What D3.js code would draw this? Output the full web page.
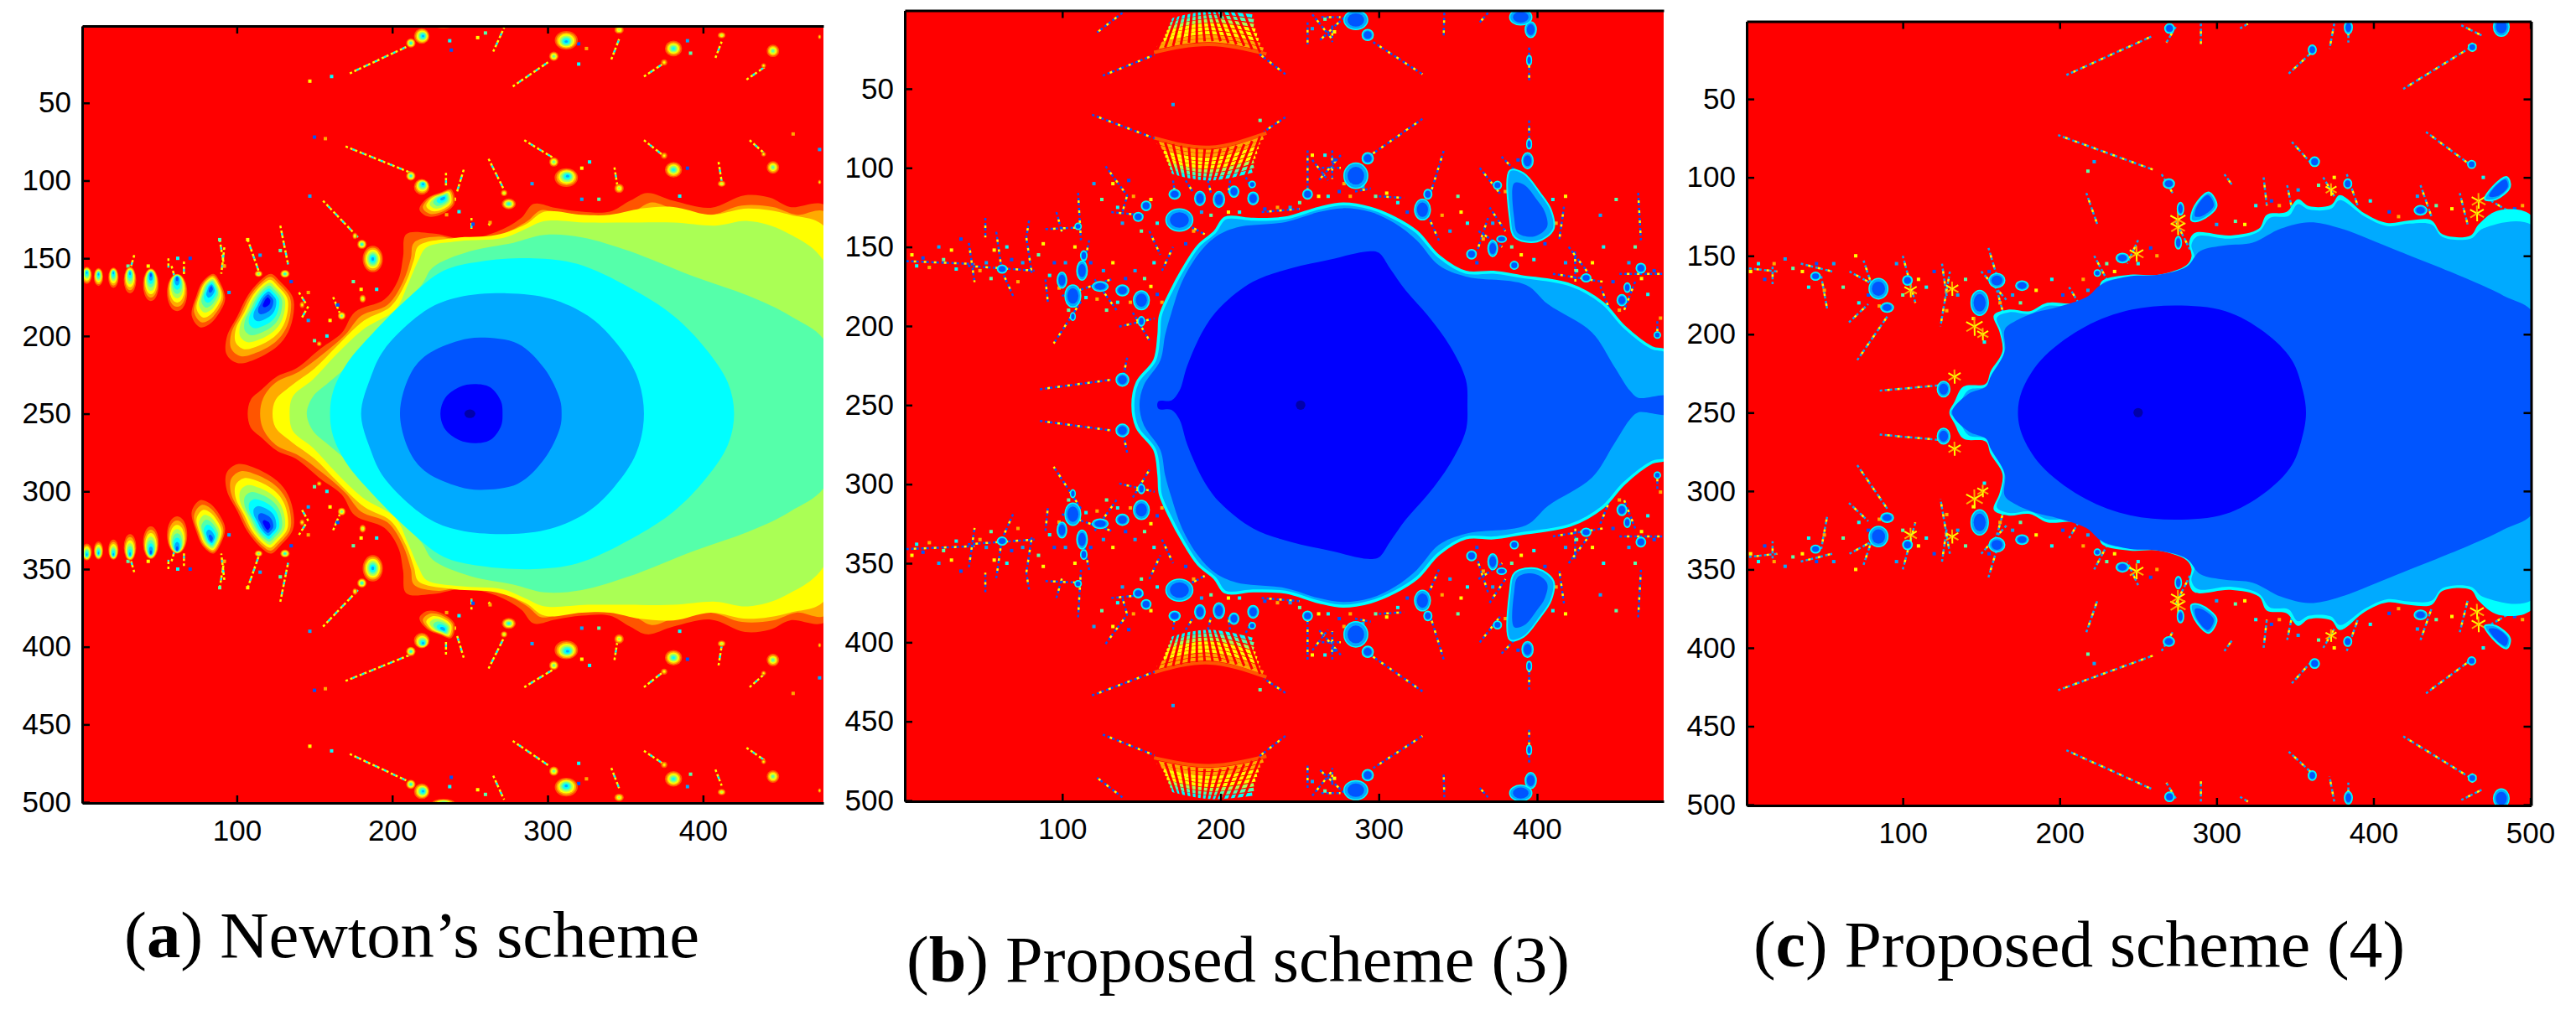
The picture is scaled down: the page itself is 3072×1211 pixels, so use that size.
<!DOCTYPE html>
<html>
<head>
<meta charset="utf-8">
<script src="https://d3js.org/d3.v7.min.js"></script>
<style>
    html, body { margin: 0; padding: 0; background: #fff; }
    .tick text { font-family: "Liberation Sans", sans-serif; font-size: 35px; fill: #000; }
    .caption { font-family: "Liberation Serif", serif; font-size: 78px; fill: #000; }
</style>
</head>
<body>
<svg id="fig" width="3072" height="1211"></svg>
<script>
// all shapes are in image coordinates (column, row).
// only the upper half is listed, the basins are mirrored about row 250 when drawn
const xTicks = [100, 200, 300, 400];
const xTicksC = [100, 200, 300, 400, 500];
const yTicks = [50, 100, 150, 200, 250, 300, 350, 400, 450, 500];

const levels = ['#ff5500', '#ffaa00', '#ffff00', '#aaff55', '#55ffaa', '#00ffff', '#00aaff', '#0055ff', '#0000ff', '#0000aa'];
const speckColours = ['#ffff00', '#00ffff', '#0055ff', '#ffaa00', '#00aaff', '#55ffaa'];

// ---- panel a
const newtonContours = [
    [[107,250],[109,241],[116,234.5],[126,226],[138,221],[154,208],[167.5,198],[176,184.5],[195,176.5],[204,163.5],[207,149],[209,134.5],[226,134],[247,137.5],[267,133],[283,124],[291,115],[305,117.5],[322,120],[340,120],[353,113],[364,108],[381,113],[405,117.5],[427,109.5],[443,111],[456,117],[480,117]],
    [[115,250],[117,240],[125,230],[140,223],[155,212],[170,199],[180,187],[197,180],[207,165],[212,150],[214,140],[230,136],[250,140],[270,135],[287,126],[296,119],[310,122],[325,125],[345,125],[357,119],[367,114],[383,119],[405,122],[425,116],[445,117],[460,122],[480,121]],
    [[123,250],[125,241],[135,232],[150,221],[164,207],[182,190],[199,181],[209,165],[214,151],[217,142],[240,137],[267,135],[286,128],[298,120],[322,122],[340,122],[360,118],[381,117],[405,122],[429,118],[456,122],[480,132]],
    [[134,250],[136,239],[149,228],[164,212],[181,196],[202,183],[210,167],[217,151],[222,143],[243,139],[271,137],[286,131],[298,126],[326,127],[353,127],[381,127],[408,129],[429,126],[453,133],[480,156]],
    [[145,250],[149,239],[159,230],[174,217],[188,201],[205,181],[219,167],[226,156],[250,145.5],[278,140],[298,135],[322,136.5],[353,145.5],[395,162],[429,174],[456,187],[480,206]],
    [[160,250],[162,235.5],[171,217.5],[188,197.6],[212,174],[233,158],[257,152],[291,150],[319,153.6],[353,169],[381,187],[402,208.5],[416,230],[420,250]],
    [[180,250],[186,227],[195,208.5],[222.5,183],[243,175],[274,172.5],[302,176],[326,187],[343,203],[357,224.5],[362,250]],
    [[205,250],[212,224],[222.5,212],[243,203],[257,201],[281,205],[298,221],[308,241],[309,250]],
    [[231,250],[234,240],[243,233],[253,231],[263,233],[270,242],[271,250]]
];
// cx, cy, rx, ry, core x, core y, number of colour rings
const newtonBlobs = [
    [3.5,161,3.2,5.5,3.5,159,7],[11,162,3,5.8,11,160,7],[20.6,162.5,3.3,6.5,20.6,159,7],[31.3,164,4,8.5,31.3,159,7],
    [44.7,167,5,10.5,44.7,160,8],[61.6,172,6.5,12,61.6,162,8],
    [187.5,150.5,6.5,8.5,187.5,150.5,7],[312,9.7,7.4,6,312,10.6,7],[312,98,7.5,6,313,97,7],
    [219,7,5,5,220,7,7],[219,104,5,5,220,102,7],[212,97,3,3,212,97,6],[212,11.5,3,3,212,11.5,6],[233,0,7,2,233,0,5],
    [275,115,4.5,3.5,275,115,6],[381,15,5.5,5,381,15,6],[381,93,5.5,5,381,93,6],[445,16.5,4,4,445,16.5,5],[445,91.5,4,4,445,91.5,5],
    [412,6.5,2.5,2,412,6.5,4],[412,102,2.5,2,412,102,4],[346,3,3,2.5,346,3,4],[346,105,3,3,346,105,4],
    [304,20,3,3,304,20,5],[304,88,3,3,304,88,5],[375,24,2,2,375,24,3],[375,84,2,2,375,84,3],[439,26,1.5,1.5,439,26,3],[439,83,1.5,1.5,439,83,3],
    [475,7.5,1,1.5,475,7.5,3],[475,101,1,1.5,475,101,3],[180.5,141,3,3,180.5,141,6],[176,135.6,1.5,2,176,135.6,4],
    [167.5,187,2.5,2.5,167.5,187,5],[181,176,2,2.5,181,176,4],[142,180,1.5,2,142,180,3],[153,205,1.5,1.5,153,205,3],
    [114,160,2.5,2,114,160,5],[131,160,3,2.5,131,160,6],[272,108,2,2,272,108,4]
];
// outline, core, rings
const newtonDrops = [
    { outline: [[122,160],[128,165],[136,175],[136.6,185],[133,197.7],[126,206.7],[112.5,214.7],[100.5,217.5],[93.5,212],[93.5,201],[100.5,187],[107,174],[116,163.5]], core: [119.7,177], rings: 9 },
    { outline: [[85,160],[90,167],[92.5,176],[90,183],[83,192],[76.4,194.4],[71,187],[74,174],[78,165]], core: [83.5,169], rings: 8 },
    { outline: [[238,105.6],[240,115],[231,122],[222.5,123],[217.5,118.5],[222.5,111.3],[231,107.7]], core: [233,111], rings: 7 }
];
const newtonStreaks = [
    [[172.7,31],[209,14]],[[277.6,39.4],[301.5,23]],[[362,33],[374,25]],[[428,35],[439.6,27]],
    [[265,17],[272,1.6]],[[341,22],[346,9]],[[408,21],[412,10.6]],
    [[170,78],[212,95]],[[285,74],[303,85]],[[362,74],[374,83.5]],[[430,74],[439,82]],
    [[262,86],[272,106]],[[343,91.5],[345,104]],[[410,88],[412,100.5]],
    [[155.5,113],[178,136.5]],[[128,129],[133,154]],[[107,138],[114,158]],[[89,138],[92,156]],
    [[162,175],[167,187]],[[234.6,95],[234.6,104]],[[246,93],[241.5,108]],[[251,124],[251,131]],[[262,127.5],[263,129]],
    [[140,172],[145,180]],[[146,181],[142,188]],[[34,148],[32,155]],[[58,155],[60,162]],[[66,152],[66,161]],[[92,143],[90,160]],[[56,150],[56,156]]
];
const newtonSpecks = [
    [147,36],[161,33],[150,72],[157,73],[147,110],[89,138],[107,138],[320,25],[320,12],[325,15],[390,10],[392,18],[240,112],[243,120],[252,128],[263,127],[322,112],[333,112],[322,92],[327,88],[390,92],[458,70],[475,80],[260,5],[255,8],[237,10],[238,16],[235,122],[290,102],[175,165],[180,170],[190,170],[135,165],[146,172],[146,190],[150,203],[160,190],[158,200],[165,180],[85,175],[95,172],[30,155],[43,155],[62,150],[70,150],[92,155],[115,148],[128,145],[430,120],[385,110]
];

// ---- panel b
const scheme3Contours = [
    [[144.6,250],[147.4,235.7],[158.4,221.6],[161,205.7],[162,193.4],[169,177.5],[175.7,165],[186,149.3],[196.4,140.5],[203,131.7],[220.6,132.5],[241,131.7],[262,125.5],[277.5,122.8],[294.8,125.5],[310,131.7],[324,140.5],[338,156],[355,166],[372.5,166],[390,168.7],[421,174],[441.5,185.5],[455,200.4],[472.5,213.7],[483,217]],
    [[148.8,250],[151.5,237.5],[162,221.6],[165,205.7],[169,191.6],[175.7,172],[186,154.6],[196.4,144],[210,137.8],[241,134.3],[262,128],[277.5,125.5],[295,128],[310,135],[324,145.8],[338,161.6],[355,168.7],[393,174],[407,186.3],[434.6,204],[448.4,225],[458.8,241],[464,245.4],[483,244.5]],
    [[160,250],[161,247.5],[169,247],[174,241],[179,225],[189.5,202],[200,188],[220.6,172],[244.7,163.4],[269,158],[293,152.8],[300,153.7],[307,163.4],[317,177.5],[331,193.4],[345,212.8],[355,234],[356,250]]
];
const scheme3Blobs = [
    [285.5,105,7.5,8],[285.5,6.5,7.5,6],[293,94,3.5,3.5],[293,16,3.5,3.5],[174,133,8.5,7],[153,124,3,3],[148,131,3,2.8],
    [171,116.7,3.5,3],[187,119.3,3.3,4.5],[199,120,3.5,5],[208.5,115,3,3.5],[220.6,119.3,3.3,4],[220,110.5,2,2],
    [255,116.7,3,3],[327.6,126.4,5,6.5],[331,116.7,2.5,3],[394,95.5,3.5,5],[396,12.6,3.5,5],[389.7,4.7,7,5],[395,85,1.5,3],[395,32,1.5,3],
    [375,111,2.5,2.5],[358.6,154.6,3,3],[372,151,3,5],[377.6,145,3,2],[385.6,161.6,2.5,2.5],[431,169.6,3,2.5],[453.6,183.7,3,3.5],[457,175.7,2,3],
    [465.6,163.4,3,3],[476,205.7,2,2],[150,183.7,5,6],[138,177.5,4,3.5],[106.7,181,5,7],[99.8,171,3,5],[112.5,165,3.3,6],[113.6,155.5,2,3],
    [124,175,5,3],[62,164,3,2.5],[138,234,4,4],[106.7,194,1.5,2.5],[110,137,2,2],[150,197,2,3]
];
const scheme3Drops = [
    { outline: [[382.8,101.7],[391.4,103.4],[401.8,115.8],[408.7,126.4],[410.4,138.7],[400,146.6],[386,144],[382.8,131.7]], core: [394,133.4] }
];
const scheme3Streaks = [
    [[1.4,159],[44.6,160.8]],[[41,147.5],[44.6,172.3]],[[58.3,140.5],[61.8,165]],[[79,133.4],[77.3,144],[80.8,167]],[[61.8,165],[68.9,181]],[[51.4,131.7],[51.4,144]],
    [[40.4,162],[82.5,165]],[[110,115.8],[111.8,145.8]],[[96.3,128],[99.8,140.5]],[[89.4,138.7],[110,137.8]],[[117,145.8],[111.8,170.5]],
    [[127.4,99],[141,117.5],[138,128]],[[131,128],[151.6,130]],[[89.4,170.5],[91,186]],[[99.8,181],[131,170.5]],[[111.8,184.6],[94.6,211]],[[120.5,170.5],[134.3,190]],
    [[144.6,191.6],[155,209]],[[136,200.4],[158.4,195.2]],[[85.9,240],[130.8,234]],[[141,220],[137.7,236]],
    [[463.9,115.8],[465.6,145.8]],[[417,124.6],[414,145.8]],[[369,131.7],[362,153]],[[377.6,92.9],[386,101.7]],[[363.8,100],[377.6,117.5]],[[341,89.3],[332.8,115.8]],
    [[331,130],[338,146]],[[424,152.8],[424.2,172]],[[410,167],[441.5,172]],[[452,167],[479.5,167]],[[462,172],[455,190]],[[476,197],[476,208]],
    [[395,24],[395,45]],[[395,70],[395,87.6]],[[296.5,20.5],[327.6,40.8]],[[327.6,69],[294.8,92]],[[125.6,41.7],[158.4,28.5]],[[241,40.8],[224,27.6]],
    [[241,68],[227.5,77]],[[118.8,66.4],[158.4,81.4]],[[369,2],[363.8,8]],[[341.4,2],[341,17]],[[138,2],[122,14.4]],
    [[255,89],[255,114]],[[270.6,89],[270.6,107]],[[264,100],[276,100]],[[255,8],[255,22]],[[270.6,10],[270.6,20.5]],[[263.7,4.7],[275.8,4.7]],
    [[258,95],[268,108]],[[276,92],[262,108]],[[258,3],[270,18]],[[278,5],[262,20]],[[178,108],[183,116]],[[192,108],[194,116]],[[206,108],[205,116]],[[216,106],[220,114]],
    [[170,108],[171,115]],[[285,115],[295,113]],[[300,118],[316,119]],[[226,128],[250,126]],[[363,140],[378,150]],[[370,125],[380,140]],[[420,150],[432,166]],[[440,175],[448,195]],
    [[163,165],[170,150]],[[168,130],[190,142]],[[155,140],[162,155]]
];
const scheme3Specks = [
    [5,155],[8,162],[12,157],[16,163],[22,150],[25,158],[30,152],[33,164],[36,145],[48,165],[52,160],[55,170],[57,152],[65,150],[68,158],[72,172],[75,160],[85,155],[88,148],[92,168],
    [95,160],[98,176],[102,160],[104,190],[108,150],[115,182],[118,160],[122,183],[126,165],[128,190],[132,160],[135,185],[140,170],[143,185],[146,165],[152,170],[156,175],[158,160],[160,180],[163,185],
    [120,110],[125,120],[132,110],[135,125],[142,108],[145,118],[138,135],[150,140],[156,120],[160,135],[178,148],[183,140],[188,128],[194,130],[205,128],[212,128],[228,126],[236,125],[244,125],[250,122],
    [262,118],[268,118],[275,115],[282,118],[290,112],[298,118],[305,116],[312,122],[318,128],[340,130],[345,140],[350,118],[352,128],[356,135],[362,160],[366,145],[372,135],[384,150],[390,155],[398,158],
    [405,148],[412,135],[418,160],[425,165],[435,160],[442,150],[448,172],[452,190],[458,160],[462,150],[466,170],[470,180],[474,165],[478,195],[440,130],[450,120],[418,118],[410,120],[388,95],[380,115],[170,60],[225,70],[258,92],[266,92],[272,95],[278,110],[258,12],[266,6],[272,14]
];
// concentric rows of the two lace fans, left, middle, right
const fanRows = [
    [[158,81],[193,87],[229,78]],[[160,84],[193,89.5],[227,81]],[[162,87],[193,92],[225,84]],[[164,90],[193,94.5],[224,87]],[[165,92.5],[193,97],[223,90]],
    [[166,95],[193,99.5],[222,93]],[[167,97.5],[193,102],[221,96]],[[168,100],[193,104.5],[221,99]],[[169,102.5],[193,107],[220,102]],
    [[158,27],[193,22],[229,28]],[[160,24],[193,19.5],[227,25]],[[162,21.5],[193,17],[225,22]],[[164,19],[193,14.5],[224,19]],[[165,16.5],[193,12],[223,16]],
    [[166,14],[193,9.5],[222,13]],[[167,11.5],[193,7],[221,10]],[[168,9],[193,4.5],[221,7]],[[169,6.5],[193,2],[220,4]]
];
const fanRowLevels = [0, 1, 1, 2, 2, 2, 3, 4, 5, 0, 1, 1, 2, 2, 2, 3, 4, 5];
const fanRays = [
    [[160,83],[171,110]],[[165,84],[173.5,110]],[[170,85],[176,110]],[[175,86],[179,110]],[[180,87],[182,110]],[[185,87.5],[185,110]],[[190,88],[188,110]],
    [[195,88],[191,110]],[[200,88],[194,110]],[[205,87],[197,110]],[[210,86],[201,110]],[[215,85],[205,110]],[[220,83],[209,110]],[[225,80],[214,110]],
    [[160,25],[171,0]],[[165,24],[173.5,0]],[[170,23],[176,0]],[[175,22],[179,0]],[[180,21],[182,0]],[[185,21],[185,0]],[[190,20],[188,0]],
    [[195,20],[191,0]],[[200,20],[194,0]],[[205,21],[197,0]],[[210,22],[201,0]],[[215,23],[205,0]],[[220,25],[209,0]],[[225,27],[214,0]]
];

// ---- panel c
const scheme4Contours = [
    [[129.7,250],[133,243],[138.6,233.4],[152.8,231.6],[156,223.6],[163.5,211],[161.7,198.7],[158,188],[167,184.4],[181,185.3],[192,180],[209.7,180],[224,172],[227.4,165.7],[245,162],[263,162],[280.7,156],[284,150.5],[282.5,141.6],[286,135.4],[309,137],[327,132.7],[332,123.8],[344.7,122],[351.8,114],[359,118.4],[373,117.6],[378.5,111.3],[394.5,123],[408.7,129],[423,127.4],[437,127.4],[444,136.3],[462,137],[467,130],[480,121],[503,126.5]],
    [[130.5,250],[136,244],[142,235.5],[153,233.4],[157,225],[164.5,212],[163,199],[160,189.5],[168,186],[181,187],[192,182],[209.7,182],[224,174],[228,167],[245,164],[263,164],[281,158],[286,152],[284,143],[288,137.5],[309,139],[327,134.5],[334,125.8],[346,124.5],[351.8,117],[359,120.5],[373,120],[378.5,114.5],[394.5,125],[408.7,131],[423,129.5],[437,130],[444,138],[462,139],[470,132.5],[503,132]],
    [[131.5,250],[142,238],[153,233.4],[156,227],[165,211],[165,197],[172,191.5],[185,186],[199,182.6],[217,176.4],[227,168],[245,163],[263,162],[281,156.8],[289.6,147],[305.6,143.4],[323,141.6],[341,132.7],[359,128.6],[376.7,131.8],[415.8,147],[462,165.7],[483,175.5],[503,188]],
    [[173.4,250],[176,236],[188,216.5],[213,197],[241.6,185.3],[273.6,181.7],[305.6,185.3],[330.5,198.7],[348,216.5],[355,236],[357,250]]
];
const scheme4Blobs = [
    [481.5,4,5,6],[149,180,5.5,8],[84.5,171,6,6.5],[90,183,4,3],[160,165.7,5,4.5],[176,169,4,3],[44.4,163,3,2.5],[103,165.7,3,3],[126,235,4,5],
    [270,5,3,3],[269.6,104,3.5,3],[240,151.4,4,3],[430,121,4,3],[362.5,90,3,3],[383.6,104,2.5,3],[384,4.4,2.5,4],[361,18.6,2.5,3],[463,17,2.5,2.5],[462.6,91.7,2.5,2.5],
    [277,120,2,4],[275.6,141.6,2,4],[224,161,2,2]
];
const scheme4Drops = [
    { outline: [[295,109.5],[300,118.4],[289.6,127.4],[284,127.4],[286,118.4]], core: [293,116.7] },
    { outline: [[485,99.7],[487,106],[478,114],[471,114],[476,106]], core: [481.5,106] }
];
const scheme4Streaks = [
    [[204.3,34.7],[259.4,9.7]],[[346,33.8],[360.5,20.4]],[[419,43.6],[462,17]],[[199,73],[259.4,95]],[[348,77.4],[362.5,93.5]],[[433.5,71],[463.8,93.5]],
    [[65.7,192.4],[78,180.8]],[[71,216.5],[90.6,188]],[[85.3,236],[124.4,232.5]],[[154.6,145],[160,163]],
    [[2,158],[20,160]],[[17,157],[17,168]],[[35,155],[55,160]],[[48,163],[52,185]],[[66,160],[88,172]],[[75,153],[80,168]],
    [[100,150],[108,180]],[[125,155],[128,176]],[[130,160],[124,195]],[[160,172],[165,190]],[[150,160],[166,178]],
    [[217,110],[224,130]],[[265,98],[272,110]],[[274,4],[268,14]],[[283,146],[274,128]],[[250,140],[243,155]],[[222,150],[230,165]],[[206,170],[212,180]],
    [[330,100],[332,118]],[[345,105],[348,120]],[[368,100],[375,112]],[[383,98],[390,118]],[[430,105],[437,125]],[[455,110],[460,130]],[[475,115],[492,125]],
    [[315,5],[320,2]],[[375,2],[372,18]],[[384,3],[384,14]],[[456,3],[470,10]],[[305,98],[310,105]],[[290,2],[290,15]]
];
const scheme4Specks = [
    [3,160],[8,155],[12,165],[18,155],[25,152],[30,158],[36,160],[40,170],[45,155],[50,172],[56,155],[62,170],[70,150],[72,180],[78,175],[85,182],[96,155],[100,175],[110,165],[115,170],
    [120,160],[128,185],[135,175],[140,165],[145,190],[152,205],[155,160],[162,180],[170,175],[175,180],[185,172],[195,165],[202,175],[215,165],[218,172],[230,155],[235,160],[250,155],[258,145],[262,150],
    [300,130],[312,128],[318,130],[325,118],[335,115],[340,118],[352,108],[365,105],[375,100],[398,115],[410,122],[416,125],[428,112],[440,118],[450,120],[470,100],[490,120],[495,118],[222,90],[218,96]
];
// pinch points with spikes
const scheme4Stars = [
    [145.7,195,6],[275.4,127,5.5],[275.4,131.8,5],[467,115,5],[249,148.8,5],[131.5,171,4.5],[105,172,4.5],[133,227,4.5],[373,107.8,4],[466,123,5],[151,200,4],[463,17,3]
];

const svg = d3.select('#fig');

const panels = [
    { name: 'a', xMax: 477.5, x: [98, 982], y: [31, 958], xTicks: xTicks, right: false,
      contours: newtonContours, contourLevels: [0, 1, 2, 3, 4, 5, 6, 7, 8], edge: null, darkDot: [250, 250, 3.5, 2.8] },
    { name: 'b', xMax: 480, x: [1079, 1984], y: [12.5, 956], xTicks: xTicks, right: false,
      contours: scheme3Contours, contourLevels: [6, 7, 8], edge: '#00ffff', darkDot: [250.6, 250, 3, 3] },
    { name: 'c', xMax: 500.5, x: [2083, 3018.5], y: [25.5, 961], xTicks: xTicksC, right: true,
      contours: scheme4Contours, contourLevels: [5, 6, 7, 8], edge: null, darkDot: [250, 250, 3, 3] }
];

const flips = [v => v, v => 500 - v];

function drawPanel(p) {
    const xScale = d3.scaleLinear().domain([0.5, p.xMax]).range(p.x);
    const yScale = d3.scaleLinear().domain([0.5, 500.5]).range(p.y);
    const width = p.x[1] - p.x[0];
    const height = p.y[1] - p.y[0];

    svg.append('clipPath').attr('id', 'clip-' + p.name)
        .append('rect').attr('x', p.x[0]).attr('y', p.y[0]).attr('width', width).attr('height', height);

    const g = svg.append('g').attr('clip-path', 'url(#clip-' + p.name + ')');

    g.append('rect').attr('x', p.x[0]).attr('y', p.y[0]).attr('width', width).attr('height', height)
        .attr('fill', '#ff0000');

    p.xScale = xScale;
    p.yScale = yScale;
    p.g = g;
}

function closedPath(p, pts, flip) {
    return d3.line()
        .x(d => p.xScale(d[0]))
        .y(d => p.yScale(flip(d[1])))
        .curve(d3.curveCatmullRomClosed)(pts);
}

function openPath(p, pts, flip, curve) {
    return d3.line()
        .x(d => p.xScale(d[0]))
        .y(d => p.yScale(flip(d[1])))
        .curve(curve || d3.curveLinear)(pts);
}

// upper half plus its reflection, to one closed outline
function basin(pts) {
    const lower = pts.filter(d => d[1] != 250).reverse().map(d => [d[0], 500 - d[1]]);
    return pts.concat(lower);
}

function drawContours(p) {
    p.contours.forEach((c, i) => {
        const path = p.g.append('path')
            .attr('d', closedPath(p, basin(c), flips[0]))
            .attr('fill', levels[p.contourLevels[i]]);
        if (i == 0 && p.edge) {
            path.attr('stroke', p.edge).attr('stroke-width', 3.5);
        }
    });
    p.g.append('ellipse')
        .attr('cx', p.xScale(p.darkDot[0]))
        .attr('cy', p.yScale(p.darkDot[1]))
        .attr('rx', p.xScale(p.darkDot[2]) - p.xScale(0))
        .attr('ry', p.yScale(p.darkDot[3]) - p.yScale(0))
        .attr('fill', levels[9]);
}

function drawStreaks(p, streaks, colours) {
    flips.forEach(flip => {
        streaks.forEach(s => {
            colours.forEach((col, k) => {
                p.g.append('path')
                    .attr('d', openPath(p, s, flip))
                    .attr('fill', 'none')
                    .attr('stroke', col)
                    .attr('stroke-width', 2.5)
                    .attr('stroke-dasharray', k == 0 ? '3 3' : '3 9')
                    .attr('stroke-dashoffset', k * 3);
            });
        });
    });
}

function drawSpecks(p, specks) {
    flips.forEach(flip => {
        p.g.selectAll(null)
            .data(specks)
            .enter().append('rect')
            .attr('x', d => p.xScale(d[0]) - 2)
            .attr('y', d => p.yScale(flip(d[1])) - 2)
            .attr('width', 4)
            .attr('height', 4)
            .attr('fill', (d, i) => speckColours[i % speckColours.length]);
    });
}

function drawRingEllipses(p, blobs) {
    flips.forEach(flip => {
        blobs.forEach(b => {
            const rings = b[6];
            d3.range(rings).forEach(k => {
                const t = 1 - k / rings;
                const cx = b[4] + (b[0] - b[4]) * t;
                const cy = b[5] + (b[1] - b[5]) * t;
                p.g.append('ellipse')
                    .attr('cx', p.xScale(cx))
                    .attr('cy', p.yScale(flip(cy)))
                    .attr('rx', (p.xScale(b[2]) - p.xScale(0)) * t)
                    .attr('ry', (p.yScale(b[3]) - p.yScale(0)) * t)
                    .attr('fill', levels[k]);
            });
        });
    });
}

function drawRingDrops(p, drops) {
    flips.forEach(flip => {
        drops.forEach(d => {
            d3.range(d.rings).forEach(k => {
                const t = 1 - k / d.rings;
                const pts = d.outline.map(q => [
                    d.core[0] + (q[0] - d.core[0]) * t,
                    d.core[1] + (q[1] - d.core[1]) * t]);
                p.g.append('path')
                    .attr('d', closedPath(p, pts, flip))
                    .attr('fill', levels[k]);
            });
        });
    });
}

// the blue islands of the proposed schemes have a light rim and a darker middle
function drawIslands(p, blobs, drops) {
    flips.forEach(flip => {
        blobs.forEach(b => {
            [[1, levels[6]], [0.7, levels[7]]].forEach(r => {
                const e = p.g.append('ellipse')
                    .attr('cx', p.xScale(b[0]))
                    .attr('cy', p.yScale(flip(b[1])))
                    .attr('rx', (p.xScale(b[2]) - p.xScale(0)) * r[0])
                    .attr('ry', (p.yScale(b[3]) - p.yScale(0)) * r[0])
                    .attr('fill', r[1]);
                if (r[0] == 1) {
                    e.attr('stroke', levels[5]).attr('stroke-width', 1.5);
                }
            });
        });
        drops.forEach(d => {
            [[1, levels[6]], [0.75, levels[7]]].forEach(r => {
                const pts = d.outline.map(q => [
                    d.core[0] + (q[0] - d.core[0]) * r[0],
                    d.core[1] + (q[1] - d.core[1]) * r[0]]);
                const e = p.g.append('path')
                    .attr('d', closedPath(p, pts, flip))
                    .attr('fill', r[1]);
                if (r[0] == 1) {
                    e.attr('stroke', levels[5]).attr('stroke-width', 2);
                }
            });
        });
    });
}

function drawFans(p) {
    flips.forEach(flip => {
        fanRows.forEach((row, i) => {
            p.g.append('path')
                .attr('d', openPath(p, row, flip, d3.curveNatural))
                .attr('fill', 'none')
                .attr('stroke', levels[fanRowLevels[i]])
                .attr('stroke-width', 4);
        });
        fanRays.forEach(ray => {
            p.g.append('path')
                .attr('d', openPath(p, ray, flip))
                .attr('stroke', '#ff0000')
                .attr('stroke-width', 3);
        });
    });
}

function drawStars(p, stars) {
    flips.forEach(flip => {
        stars.forEach(s => {
            const sx = p.xScale(s[0]);
            const sy = p.yScale(flip(s[1]));
            const size = (p.xScale(s[2]) - p.xScale(0));
            d3.range(6).forEach(k => {
                const a = k * Math.PI / 3 + 0.5;
                p.g.append('line')
                    .attr('x1', sx).attr('y1', sy)
                    .attr('x2', sx + Math.cos(a) * size)
                    .attr('y2', sy + Math.sin(a) * size)
                    .attr('stroke', k % 2 ? '#ffff00' : '#ffaa00')
                    .attr('stroke-width', 2);
            });
        });
    });
}

function drawAxes(p) {
    const style = sel => {
        sel.selectAll('path.domain').attr('stroke', '#000').attr('stroke-width', 3);
        sel.selectAll('.tick line').attr('stroke', '#000').attr('stroke-width', 2.5);
    };
    svg.append('g').attr('transform', `translate(0,${p.y[1]})`)
        .call(d3.axisBottom(p.xScale).tickValues(p.xTicks).tickSizeInner(-9).tickSizeOuter(0).tickPadding(20))
        .call(style);
    svg.append('g').attr('transform', `translate(0,${p.y[0]})`)
        .call(d3.axisTop(p.xScale).tickValues(p.xTicks).tickSizeInner(-9).tickSizeOuter(0).tickFormat(''))
        .call(style);
    svg.append('g').attr('transform', `translate(${p.x[0]},0)`)
        .call(d3.axisLeft(p.yScale).tickValues(yTicks).tickSizeInner(-9).tickSizeOuter(0).tickPadding(13))
        .call(style);
    if (p.right) {
        svg.append('g').attr('transform', `translate(${p.x[1]},0)`)
            .call(d3.axisRight(p.yScale).tickValues(yTicks).tickSizeInner(-9).tickSizeOuter(0).tickFormat(''))
            .call(style);
    }
}

panels.forEach(drawPanel);

const newton = panels[0], scheme3 = panels[1], scheme4 = panels[2];

drawStreaks(newton, newtonStreaks, ['#ffff00', '#00ffff']);
drawSpecks(newton, newtonSpecks);
drawRingEllipses(newton, newtonBlobs);
drawRingDrops(newton, newtonDrops);
drawContours(newton);

drawFans(scheme3);
drawStreaks(scheme3, scheme3Streaks, ['#0055ff', '#ffff00']);
drawSpecks(scheme3, scheme3Specks);
drawIslands(scheme3, scheme3Blobs, scheme3Drops);
drawContours(scheme3);

drawStreaks(scheme4, scheme4Streaks, ['#00aaff', '#ffff00']);
drawSpecks(scheme4, scheme4Specks);
drawStars(scheme4, scheme4Stars);
drawIslands(scheme4, scheme4Blobs, scheme4Drops);
drawContours(scheme4);

panels.forEach(drawAxes);

// captions
const captions = [
    { tag: 'a', rest: ' Newton\u2019s scheme', x: 148, y: 1142, w: 686 },
    { tag: 'b', rest: ' Proposed scheme (3)', x: 1081, y: 1171, w: 791 },
    { tag: 'c', rest: ' Proposed scheme (4)', x: 2091, y: 1153, w: 777 }
];
captions.forEach(c => {
    const t = svg.append('text').attr('class', 'caption')
        .attr('x', c.x).attr('y', c.y)
        .attr('textLength', c.w).attr('lengthAdjust', 'spacingAndGlyphs');
    t.append('tspan').text('(');
    t.append('tspan').attr('font-weight', 'bold').text(c.tag);
    t.append('tspan').text(')' + c.rest);
});
</script>
</body>
</html>
